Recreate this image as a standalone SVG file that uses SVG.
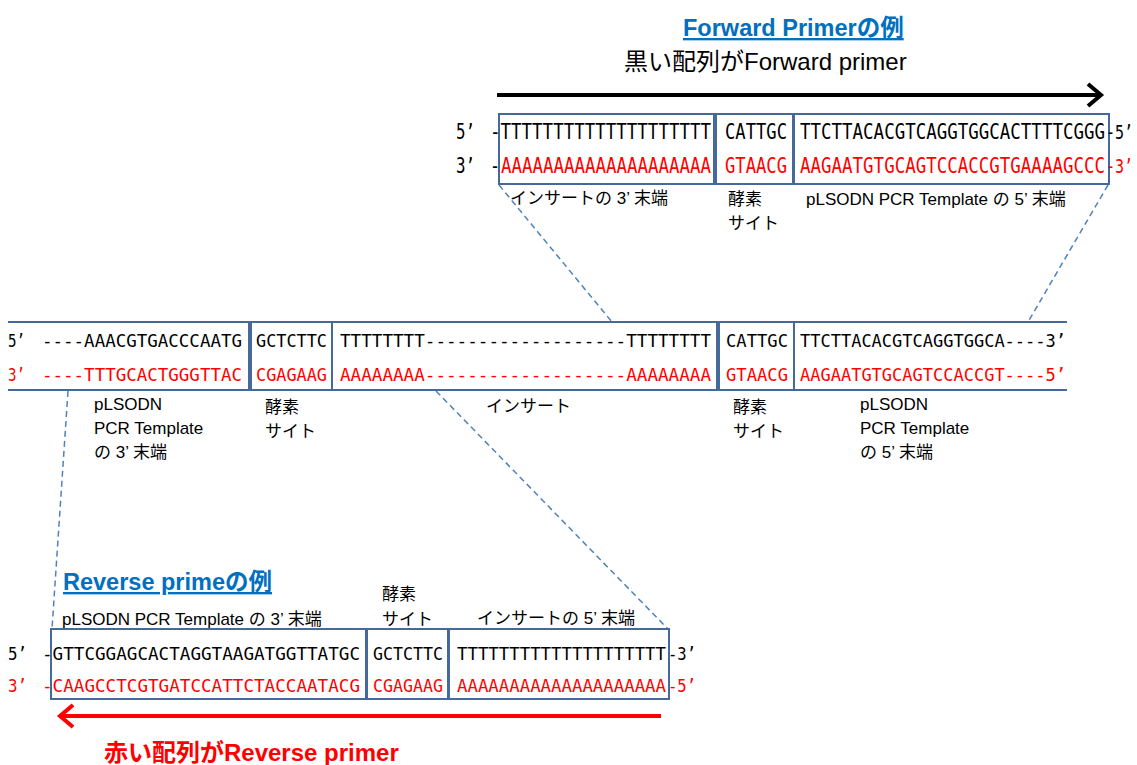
<svg xmlns="http://www.w3.org/2000/svg" width="1137" height="765" viewBox="0 0 1137 765">
<style>
.seq{font-family:"DejaVu Sans Mono","Liberation Mono",monospace;font-size:17.5px}
.sm{font-size:16px}
.k{fill:#000}
.r{fill:#FF0000}
.lbl{font-family:"Liberation Sans","Noto Sans CJK JP",sans-serif;font-size:17px;fill:#000}
.box{fill:none;stroke:#46699C;stroke-width:2}
.dash{fill:none;stroke:#4F81BD;stroke-width:1.5;stroke-dasharray:6 4}
.ttl{font-family:"Liberation Sans","Noto Sans CJK JP",sans-serif;font-weight:bold;font-size:23.5px;fill:#0070C0;text-decoration:underline}
.big{font-family:"Liberation Sans","Noto Sans CJK JP",sans-serif;font-size:24px}
</style>
<rect width="1137" height="765" fill="#fff"/>

<g id="connectors">
  <line class="dash" x1="499" y1="185" x2="612" y2="322"/>
  <line class="dash" x1="1108" y1="185" x2="1028" y2="322"/>
  <line class="dash" x1="68" y1="391" x2="52" y2="629"/>
  <line class="dash" x1="436" y1="391" x2="668" y2="629"/>
</g>

<g id="forward-title">
  <text class="ttl" x="683" y="36">Forward Primerの例</text>
  <text class="big k" x="624" y="70">黒い配列がForward primer</text>
  <g id="forward-arrow" fill="none" stroke="#000" stroke-width="4">
    <line x1="497" y1="95" x2="1100" y2="95"/>
    <polyline points="1088,84 1101,95 1088,106"/>
  </g>
</g>

<g id="forward-primer">
  <rect class="box" x="499" y="114" width="215" height="70"/>
  <rect class="box" x="716" y="114" width="77" height="70"/>
  <rect class="box" x="794" y="114" width="315" height="70"/>
  <g class="seq" transform="translate(0,139) scale(1,1.2)">
    <text class="k" x="456" y="0" textLength="19" lengthAdjust="spacingAndGlyphs">5’</text>
    <text class="k" x="490" y="0" textLength="221" lengthAdjust="spacingAndGlyphs">-TTTTTTTTTTTTTTTTTTTT</text>
    <text class="k" x="725" y="0" textLength="62" lengthAdjust="spacingAndGlyphs">CATTGC</text>
    <text class="k" x="800" y="0" textLength="305" lengthAdjust="spacingAndGlyphs">TTCTTACACGTCAGGTGGCACTTTTCGGG</text>
    <text class="k sm" x="1106" y="0" textLength="27" lengthAdjust="spacingAndGlyphs">-5’</text>
  </g>
  <g class="seq" transform="translate(0,173) scale(1,1.2)">
    <text class="k" x="456" y="0" textLength="19" lengthAdjust="spacingAndGlyphs">3’</text>
    <text class="k" x="490" y="0" textLength="10" lengthAdjust="spacingAndGlyphs">-</text>
    <text class="r" x="501" y="0" textLength="210" lengthAdjust="spacingAndGlyphs">AAAAAAAAAAAAAAAAAAAA</text>
    <text class="r" x="725" y="0" textLength="62" lengthAdjust="spacingAndGlyphs">GTAACG</text>
    <text class="r" x="800" y="0" textLength="305" lengthAdjust="spacingAndGlyphs">AAGAATGTGCAGTCCACCGTGAAAAGCCC</text>
    <text class="r sm" x="1106" y="0" textLength="27" lengthAdjust="spacingAndGlyphs">-3’</text>
  </g>
  <text class="lbl" x="510" y="204">インサートの 3’ 末端</text>
  <text class="lbl" x="728" y="205">酵素</text>
  <text class="lbl" x="728" y="229">サイト</text>
  <text class="lbl" x="806" y="205">pLSODN PCR Template の 5’ 末端</text>
</g>

<g id="template">
  <path class="box" d="M8 322 H249 V390 H8"/>
  <rect class="box" x="251" y="322" width="81" height="68"/>
  <rect class="box" x="332" y="322" width="385" height="68"/>
  <rect class="box" x="719" y="322" width="75" height="68"/>
  <path class="box" d="M794 322 H1067 M794 390 H1067"/>
  <g class="seq">
    <text class="k" x="8" y="347" textLength="17" lengthAdjust="spacingAndGlyphs">5’</text>
    <text class="k" x="42" y="347" textLength="200" lengthAdjust="spacingAndGlyphs">----AAACGTGACCCAATG</text>
    <text class="k" x="256" y="347" textLength="71" lengthAdjust="spacingAndGlyphs">GCTCTTC</text>
    <text class="k" x="340" y="347" textLength="371" lengthAdjust="spacingAndGlyphs">TTTTTTTT-------------------TTTTTTTT</text>
    <text class="k" x="726" y="347" textLength="62" lengthAdjust="spacingAndGlyphs">CATTGC</text>
    <text class="k" x="800" y="347" textLength="266" lengthAdjust="spacingAndGlyphs">TTCTTACACGTCAGGTGGCA----3’</text>
    <text class="r" x="8" y="381" textLength="17" lengthAdjust="spacingAndGlyphs">3’</text>
    <text class="r" x="42" y="381" textLength="200" lengthAdjust="spacingAndGlyphs">----TTTGCACTGGGTTAC</text>
    <text class="r" x="256" y="381" textLength="71" lengthAdjust="spacingAndGlyphs">CGAGAAG</text>
    <text class="r" x="340" y="381" textLength="371" lengthAdjust="spacingAndGlyphs">AAAAAAAA-------------------AAAAAAAA</text>
    <text class="r" x="726" y="381" textLength="62" lengthAdjust="spacingAndGlyphs">GTAACG</text>
    <text class="r" x="800" y="381" textLength="266" lengthAdjust="spacingAndGlyphs">AAGAATGTGCAGTCCACCGT----5’</text>
  </g>
  <text class="lbl" x="94" y="410">pLSODN</text>
  <text class="lbl" x="94" y="434">PCR Template</text>
  <text class="lbl" x="94" y="458">の 3’ 末端</text>
  <text class="lbl" x="265" y="413">酵素</text>
  <text class="lbl" x="265" y="437">サイト</text>
  <text class="lbl" x="486" y="412">インサート</text>
  <text class="lbl" x="733" y="413">酵素</text>
  <text class="lbl" x="733" y="437">サイト</text>
  <text class="lbl" x="860" y="410">pLSODN</text>
  <text class="lbl" x="860" y="434">PCR Template</text>
  <text class="lbl" x="860" y="458">の 5’ 末端</text>
</g>

<g id="reverse-primer">
  <text class="ttl" x="63" y="590">Reverse primeの例</text>
  <text class="lbl" x="62" y="625">pLSODN PCR Template の 3’ 末端</text>
  <text class="lbl" x="382" y="600">酵素</text>
  <text class="lbl" x="382" y="625">サイト</text>
  <text class="lbl" x="477" y="624">インサートの 5’ 末端</text>
  <rect class="box" x="51" y="629" width="315" height="70"/>
  <rect class="box" x="367" y="629" width="81" height="70"/>
  <rect class="box" x="449" y="629" width="220" height="70"/>
  <g class="seq">
    <text class="k" x="8" y="660" textLength="19" lengthAdjust="spacingAndGlyphs">5’</text>
    <text class="k" x="42" y="660" textLength="318" lengthAdjust="spacingAndGlyphs">-GTTCGGAGCACTAGGTAAGATGGTTATGC</text>
    <text class="k" x="373" y="660" textLength="70" lengthAdjust="spacingAndGlyphs">GCTCTTC</text>
    <text class="k" x="457" y="660" textLength="209" lengthAdjust="spacingAndGlyphs">TTTTTTTTTTTTTTTTTTTT</text>
    <text class="k" x="668" y="660" textLength="28" lengthAdjust="spacingAndGlyphs">-3’</text>
    <text class="r" x="8" y="692" textLength="19" lengthAdjust="spacingAndGlyphs">3’</text>
    <text class="r" x="42" y="692" textLength="318" lengthAdjust="spacingAndGlyphs">-CAAGCCTCGTGATCCATTCTACCAATACG</text>
    <text class="r" x="373" y="692" textLength="70" lengthAdjust="spacingAndGlyphs">CGAGAAG</text>
    <text class="r" x="457" y="692" textLength="209" lengthAdjust="spacingAndGlyphs">AAAAAAAAAAAAAAAAAAAA</text>
    <text class="r" x="668" y="692" textLength="28" lengthAdjust="spacingAndGlyphs">-5’</text>
  </g>
  <g id="reverse-arrow" fill="none" stroke="#FF0000" stroke-width="4">
    <line x1="661" y1="716" x2="61" y2="716"/>
    <polyline points="73,705 60,716 73,727"/>
  </g>
  <text class="big r" x="104" y="761" font-weight="bold">赤い配列がReverse primer</text>
</g>
</svg>
